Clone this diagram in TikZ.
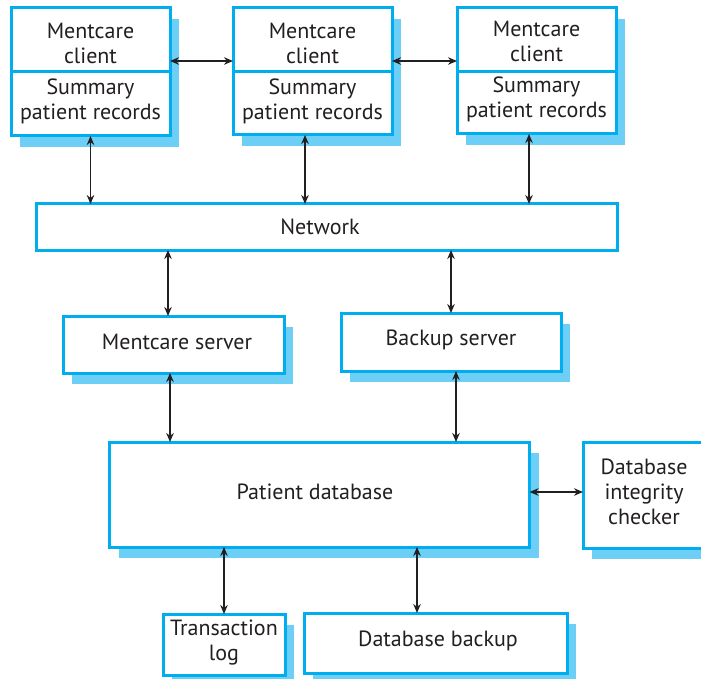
\documentclass[tikz,border=0pt]{standalone}
\usepackage{fontspec}
\setmainfont{PT Sans}
\usetikzlibrary{arrows.meta,shadows,positioning}
\definecolor{boxc}{HTML}{00AEEF}
\definecolor{shadc}{HTML}{6DCFF6}
\definecolor{txt}{HTML}{231F20}
\tikzset{
  plainbox/.style={draw=boxc, line width=3pt, fill=white, inner sep=0pt, outer sep=0pt},
  box/.style={plainbox,
    drop shadow={shadow xshift=9pt, shadow yshift=-11pt, fill=shadc, opacity=1}},
  lbl/.style={text=txt, align=center, font=\fontsize{22}{25}\selectfont, inner sep=0pt},
  arr/.style={draw=txt, line width=1.3pt, {Stealth[length=9pt,width=7.5pt]}-{Stealth[length=9pt,width=7.5pt]}},
}
\begin{document}
\begin{tikzpicture}[x=1pt,y=-1pt]
\useasboundingbox (0,0) rectangle (701,679);
% clients
\node[box, minimum width=159pt, minimum height=128pt] (c1) at (90.5,72) {};
\node[box, minimum width=159pt, minimum height=127pt] (c2) at (312.5,71.5) {};
\node[box, minimum width=159pt, minimum height=126pt] (c3) at (536.5,71) {};
\foreach \c in {c1,c2,c3}{
  \draw[draw=boxc, line width=3pt] (\c.west |- 0,72) -- (\c.east |- 0,72);
}
\node[lbl] (c1a) at (90.5,43) {Mentcare\\client};
\node[lbl] (c1b) at (90.5,101) {Summary\\patient records};
\node[lbl] (c2a) at (312.5,43) {Mentcare\\client};
\node[lbl] (c2b) at (312.5,101) {Summary\\patient records};
\node[lbl] (c3a) at (536.5,41) {Mentcare\\client};
\node[lbl] (c3b) at (536.5,99) {Summary\\patient records};
% network
\node[plainbox, minimum width=581pt, minimum height=46pt] (net) at (326.5,227) {};
\node[lbl] (netl) at (320,227) {Network};
% servers
\node[box, minimum width=221pt, minimum height=57pt] (ms) at (173.5,344.5) {};
\node[lbl] (msl) at (177,342) {Mentcare server};
\node[box, minimum width=220pt, minimum height=58pt] (bs) at (451,342) {};
\node[lbl] (bsl) at (451,340) {Backup server};
% databases
\node[box, minimum width=420pt, minimum height=105pt] (db) at (319.5,494.5) {};
\node[lbl] (dbl) at (315,492) {Patient database};
\node[box, minimum width=124pt, minimum height=106pt] (ic) at (645,495) {};
\node[lbl] (icl) at (644,492) {Database\\integrity\\checker};
\node[box, minimum width=122pt, minimum height=61pt] (tl) at (224,644.5) {};
\node[lbl] (tll) at (224,643) {Transaction\\log};
\node[box, minimum width=263pt, minimum height=60pt] (bk) at (435.5,643) {};
\node[lbl] (bkl) at (438,641) {Database backup};
% connectors
\draw[arr] (c1.east |- 0,61) -- (c2.west |- 0,61);
\draw[arr] (c2.east |- 0,61) -- (c3.west |- 0,61);
\draw[arr] (c1.south) -- (c1.south |- net.north);
\draw[arr] ([xshift=-7.5pt]c2.south) -- ([xshift=-7.5pt]c2.south |- net.north);
\draw[arr] ([xshift=-7.5pt]c3.south) -- ([xshift=-7.5pt]c3.south |- net.north);
\draw[arr] ([xshift=-5.5pt]ms.north) -- ([xshift=-5.5pt]ms.north |- net.south);
\draw[arr] (bs.north |- net.south) -- (bs.north);
\draw[arr] ([xshift=-3.5pt]ms.south) -- ([xshift=-3.5pt]ms.south |- db.north);
\draw[arr] ([xshift=5pt]bs.south) -- ([xshift=5pt]bs.south |- db.north);
\draw[arr] (db.east |- 0,492) -- (ic.west |- 0,492);
\draw[arr] (tl.north) -- (tl.north |- db.south);
\draw[arr] ([xshift=-18.5pt]bk.north) -- ([xshift=-18.5pt]bk.north |- db.south);
\end{tikzpicture}
\end{document}
